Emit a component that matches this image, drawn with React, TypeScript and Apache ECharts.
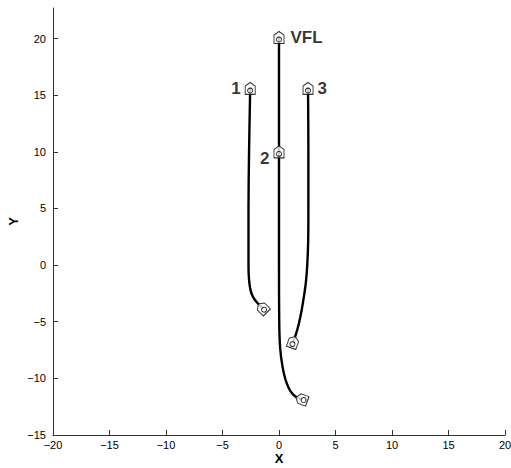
import React, { useEffect, useRef } from "react";
import * as echarts from "echarts";

const track1: [number, number][] = [
  [-2.55, 15.6], [-2.65, 10], [-2.7, 5], [-2.7, 0], [-2.65, -1.3], [-2.5, -2.3], [-2.25, -2.9], [-1.95, -3.3], [-1.7, -3.55], [-1.45, -3.8],
];
const trackVFL: [number, number][] = [
  [0, 20.1], [0, 10], [0, 0], [0.02, -5], [0.1, -7.3], [0.3, -8.9], [0.6, -10.2], [1.0, -11.1], [1.45, -11.6], [2.0, -11.85],
];
const track3: [number, number][] = [
  [2.57, 15.6], [2.6, 10], [2.6, 5], [2.58, 2], [2.5, 0], [2.38, -1.5], [2.2, -2.8], [2.0, -4.0], [1.75, -5.2], [1.5, -6.1], [1.25, -6.8],
];
const track2Start: [number, number] = [0, 10];

const xTicks = { min: -20, max: 20, interval: 5 };
const yTicks = { min: -15, max: 22.7, interval: 5 };

const markerPath =
  "path://M5 0 L10 4 L10 13 L0 13 L0 4 Z M5 6.2 A2.6 2.6 0 1 1 4.99 6.2 Z";

const fmt = (v: number) => (v < 0 ? "\u2212" + Math.abs(v) : String(v));

export default function App() {
  const ref = useRef<HTMLDivElement>(null);
  useEffect(() => {
    if (!ref.current) return;
    const chart = echarts.init(ref.current, null, { renderer: "svg" });
    const lineStyle = { color: "#000", width: 2.4 };
    const labelFont = { fontFamily: "Liberation Sans, Arial", fontWeight: "bold" as const, fontSize: 17, color: "#000" };
    const markers = [
      { value: track1[0], symbolRotate: 0, label: { show: true, formatter: "1", position: "left", distance: 4, ...labelFont } },
      { value: trackVFL[0], symbolRotate: 0, label: { show: true, formatter: "VFL", position: "right", distance: 6, ...labelFont } },
      { value: track2Start, symbolRotate: 0, label: { show: true, formatter: "2", position: "left", distance: 4, offset: [0, 7], ...labelFont } },
      { value: track3[0], symbolRotate: 0, label: { show: true, formatter: "3", position: "right", distance: 4, ...labelFont } },
      { value: track1[track1.length - 1], symbolRotate: 45 },
      { value: trackVFL[trackVFL.length - 1], symbolRotate: 70 },
      { value: track3[track3.length - 1], symbolRotate: -20 },
    ];
    chart.setOption({
      animation: false,
      backgroundColor: "#fff",
      grid: { left: 53, right: 6, top: 8, bottom: 33, containLabel: false, outerBoundsMode: "none" },
      xAxis: {
        type: "value",
        ...xTicks,
        name: "X",
        nameLocation: "middle",
        nameGap: 17,
        nameMoveOverlap: false,
        nameTextStyle: { fontFamily: "Liberation Sans, Arial", fontWeight: "bold", fontSize: 13, color: "#000" },
        axisLine: { show: true, onZero: false, lineStyle: { color: "#333", width: 1 } },
        axisTick: { show: true, inside: true, length: 5, lineStyle: { color: "#333" } },
        axisLabel: { formatter: fmt, fontFamily: "Liberation Sans, Arial", fontSize: 11, color: "#000", margin: 4 },
        splitLine: { show: false },
      },
      yAxis: {
        type: "value",
        ...yTicks,
        name: "Y",
        nameLocation: "middle",
        nameGap: 33,
        nameMoveOverlap: false,
        nameRotate: 90,
        nameTextStyle: { fontFamily: "Liberation Sans, Arial", fontWeight: "bold", fontSize: 13, color: "#000" },
        axisLine: { show: true, onZero: false, lineStyle: { color: "#333", width: 1 } },
        axisTick: { show: true, inside: true, length: 5, lineStyle: { color: "#333" } },
        axisLabel: { formatter: fmt, fontFamily: "Liberation Sans, Arial", fontSize: 11, color: "#000", margin: 7, showMaxLabel: false },
        splitLine: { show: false },
      },
      series: [
        { type: "line", data: track1, smooth: 0.3, showSymbol: false, lineStyle, z: 2 },
        { type: "line", data: trackVFL, smooth: 0.3, showSymbol: false, lineStyle, z: 2 },
        { type: "line", data: track3, smooth: 0.3, showSymbol: false, lineStyle, z: 2 },
        {
          type: "scatter",
          data: markers,
          symbol: markerPath,
          symbolSize: [10, 12],
          itemStyle: { color: "#fff", borderColor: "#000", borderWidth: 1 },
          z: 5,
        },
      ],
    });
    return () => chart.dispose();
  }, []);
  return <div ref={ref} style={{ width: 511, height: 468, position: "absolute", left: 0, top: 0 }} />;
}
